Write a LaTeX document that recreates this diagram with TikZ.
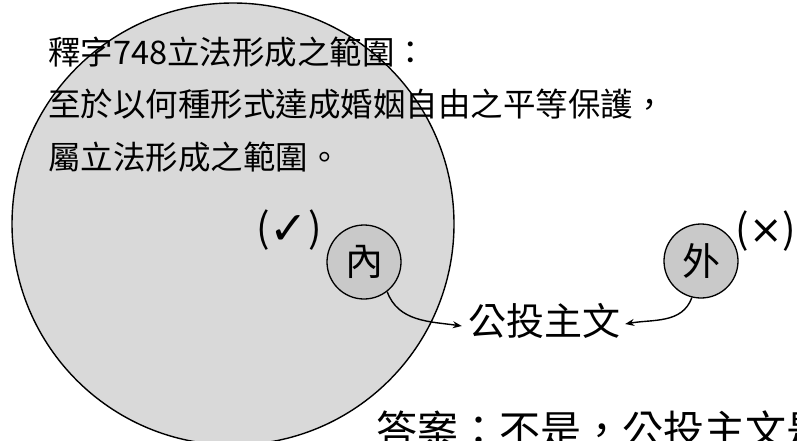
\documentclass[tikz,border=0pt]{standalone}
\usepackage{fontspec}
\setmainfont{Noto Sans CJK TC}
\newfontfamily\dejavu{DejaVu Sans}
\usetikzlibrary{arrows.meta}
\begin{document}
\begin{tikzpicture}[x=1pt,y=-1pt,
  bigcirc/.style={circle, draw=black, line width=1.4pt, fill=gray!30, minimum size=442pt, inner sep=0pt},
  smallcirc/.style={circle, draw=black, line width=1.3pt, fill=gray!42, minimum size=74pt, inner sep=0pt, font=\fontsize{38}{38}\selectfont},
  linetxt/.style={inner sep=0pt, anchor=west, font=\fontsize{32.5}{32.5}\selectfont},
  marktxt/.style={inner sep=0pt, font=\fontsize{40}{40}\selectfont},
  maintxt/.style={inner sep=0pt, font=\fontsize{38}{38}\selectfont},
  anstxt/.style={inner sep=0pt, anchor=base west, font=\fontsize{41}{41}\selectfont},
  arr/.style={line width=1.4pt, -{Stealth[length=9pt,width=7pt]}}]
\useasboundingbox (0,0) rectangle (797,441);
\clip (0,0) rectangle (797,441);
\fill[white] (0,0) rectangle (797,441);
\node[bigcirc] (big) at (233,224) {};
\node[linetxt] (l1) at (48,52) {釋字748立法形成之範圍：};
\node[linetxt] (l2) at (48,104) {至於以何種形式達成婚姻自由之平等保護，};
\node[linetxt] (l3) at (48,157) {屬立法形成之範圍。};
\node[marktxt] (ok) at (289,230) {(\raisebox{-2pt}{\dejavu\fontsize{46}{46}\selectfont ✓})};
\node[smallcirc] (nei) at (364,262) {內};
\node[smallcirc] (wai) at (701,261) {外};
\node[marktxt] (no) at (766,231) {({\dejavu\fontsize{40}{40}\selectfont ×})};
\node[maintxt] (gt) at (544,321) {公投主文};
\node[anstxt] (ans) at (376,445) {答案：不是，公投主文是};
\draw[arr] (nei.-52) to[out=-70,in=172] ([xshift=-6pt,yshift=-5pt]gt.west);
\draw[arr] (wai.-104) to[out=-110,in=10] ([xshift=5pt,yshift=-3pt]gt.east);
\end{tikzpicture}
\end{document}
